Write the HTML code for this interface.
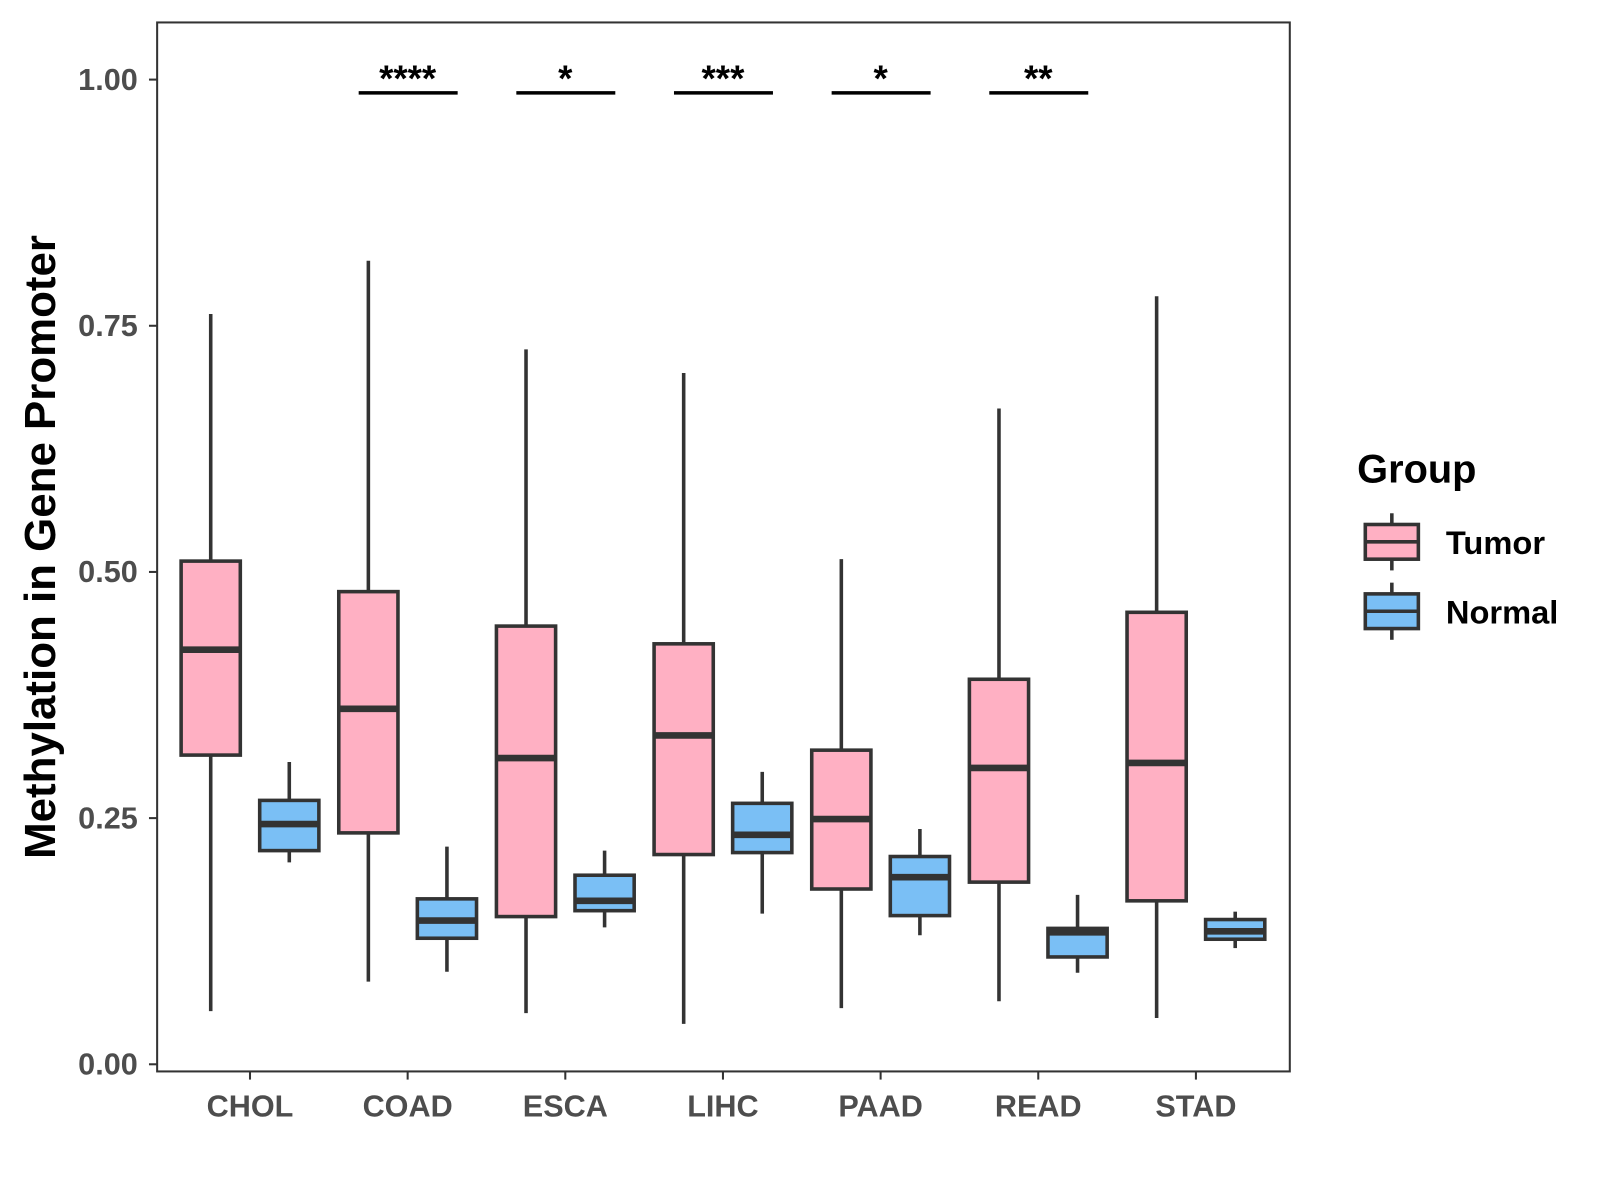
<!DOCTYPE html>
<html><head><meta charset="utf-8"><style>
html,body{margin:0;padding:0;background:#fff;}
svg{display:block;font-family:"Liberation Sans",Arial,sans-serif;}
</style></head><body>
<svg id="chart" width="1600" height="1200" viewBox="0 0 1568 1176">
<rect x="154" y="22" width="1110" height="1028" fill="#fff" stroke="#333" stroke-width="2"/>
<g id="boxes"></g><g id="axes"></g><g id="sig"></g>
<text transform="translate(54,536) rotate(-90)" text-anchor="middle" font-size="43" font-weight="bold" fill="#000">Methylation in Gene Promoter</text>
<g>
<text x="1330" y="473" font-size="39" font-weight="bold" fill="#000">Group</text>
<g>
<line x1="1364" y1="503" x2="1364" y2="559" stroke="#333" stroke-width="3.5"/>
<rect x="1338" y="514" width="52" height="34" fill="#FFB0C3" stroke="#333" stroke-width="3.5"/>
<line x1="1338" y1="531" x2="1390" y2="531" stroke="#333" stroke-width="3.5"/>
<text x="1417" y="543" font-size="32" font-weight="bold" fill="#000">Tumor</text></g>
<g>
<line x1="1364" y1="571" x2="1364" y2="627" stroke="#333" stroke-width="3.5"/>
<rect x="1338" y="582" width="52" height="34" fill="#7ABFF5" stroke="#333" stroke-width="3.5"/>
<line x1="1338" y1="599" x2="1390" y2="599" stroke="#333" stroke-width="3.5"/>
<text x="1417" y="611" font-size="32" font-weight="bold" fill="#000">Normal</text></g>
</g>
</svg>
<script>
const categories=["CHOL","COAD","ESCA","LIHC","PAAD","READ","STAD"];
// [low, q1, median, q3, high]
const tumor=[[0.054,0.314,0.421,0.511,0.762],[0.084,0.235,0.361,0.480,0.816],[0.052,0.150,0.311,0.445,0.726],[0.041,0.213,0.334,0.427,0.702],[0.057,0.178,0.249,0.319,0.513],[0.064,0.185,0.301,0.391,0.666],[0.047,0.166,0.306,0.459,0.780]];
const normal=[[0.205,0.217,0.244,0.268,0.307],[0.094,0.128,0.146,0.168,0.221],[0.139,0.156,0.166,0.192,0.217],[0.153,0.215,0.233,0.265,0.297],[0.131,0.151,0.190,0.211,0.239],[0.093,0.109,0.134,0.138,0.172],[0.118,0.127,0.135,0.147,0.155]];
const yTicks=[0,0.25,0.5,0.75,1.0];
const yTickLabels=["0.00","0.25","0.50","0.75","1.00"];
const sigLabels=["","****","*","***","*","**",""];
const NS="http://www.w3.org/2000/svg";
const y=v=>1043-v*965;
const x=i=>245+i*154.5;
function mk(tag,attrs,parent,text){const e=document.createElementNS(NS,tag);for(const k in attrs)e.setAttribute(k,attrs[k]);if(text!==undefined)e.textContent=text;parent.appendChild(e);return e;}
const boxes=document.getElementById('boxes'),axes=document.getElementById('axes'),sig=document.getElementById('sig');
function drawBox(cx,d,fill,name){
  const g=mk('g',{},boxes);
  
  
  mk('line',{x1:cx,x2:cx,y1:y(d[4]),y2:y(d[0]),stroke:'#333','stroke-width':3.5},g);
  mk('rect',{x:cx-29,y:y(d[3]),width:58,height:y(d[1])-y(d[3]),fill:fill,stroke:'#333','stroke-width':3.5},g);
  mk('line',{x1:cx-29,x2:cx+29,y1:y(d[2]),y2:y(d[2]),stroke:'#333','stroke-width':6.5},g);
}
categories.forEach((c,i)=>{
  drawBox(x(i)-38.5,tumor[i],'#FFB0C3','box-'+c.toLowerCase()+'-tumor');
  drawBox(x(i)+38.5,normal[i],'#7ABFF5','box-'+c.toLowerCase()+'-normal');
  mk('line',{x1:x(i),x2:x(i),y1:1050,y2:1058,stroke:'#333','stroke-width':2},axes);
  const t=mk('text',{x:x(i),y:1094,'text-anchor':'middle','font-size':30,'font-weight':'bold',fill:'#4d4d4d'},axes,c);
  
  
  if(sigLabels[i]){
    const g=mk('g',{},sig);
    
    
    mk('line',{x1:x(i)-48,x2:x(i)+49,y1:91,y2:91,stroke:'#000','stroke-width':3.5},g);
    mk('text',{x:x(i),y:89,'text-anchor':'middle','font-size':36,'font-weight':'bold',fill:'#000'},g,sigLabels[i]);
  }
});
yTicks.forEach((v,i)=>{
  mk('line',{x1:146,x2:154,y1:y(v),y2:y(v),stroke:'#333','stroke-width':2},axes);
  const t=mk('text',{x:135,y:y(v)+10,'text-anchor':'end','font-size':30,'font-weight':'bold',fill:'#4d4d4d'},axes,yTickLabels[i]);
  
  
});
</script>
</body></html>
